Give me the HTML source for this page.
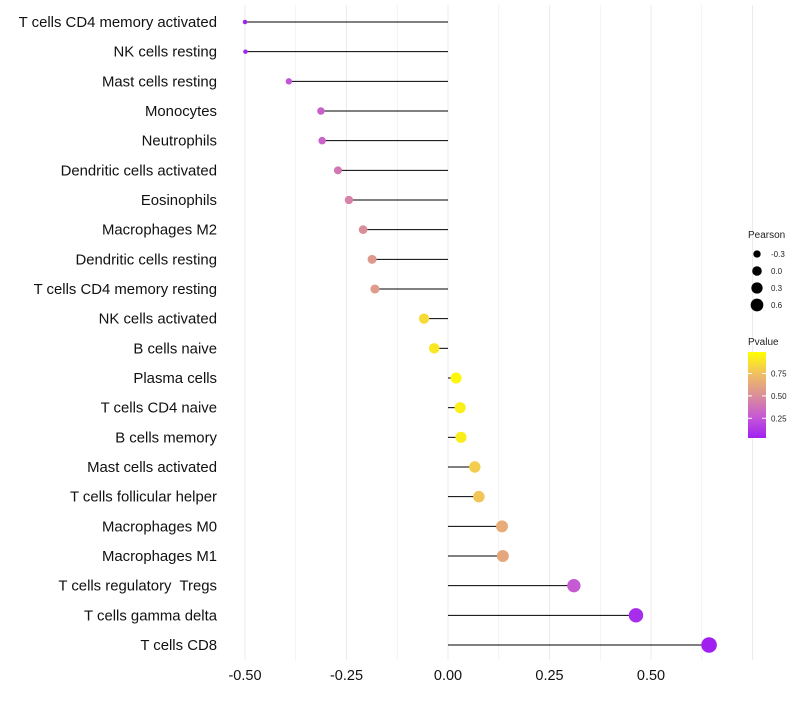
<!DOCTYPE html>
<html><head><meta charset="utf-8"><style>
body{margin:0;background:#fff;font-family:"Liberation Sans",sans-serif}
</style></head><body>
<svg id="chart" width="800" height="700" xmlns="http://www.w3.org/2000/svg" font-family="Liberation Sans, sans-serif"></svg>
<script>
const categories=["T cells CD4 memory activated","NK cells resting","Mast cells resting","Monocytes","Neutrophils","Dendritic cells activated","Eosinophils","Macrophages M2","Dendritic cells resting","T cells CD4 memory resting","NK cells activated","B cells naive","Plasma cells","T cells CD4 naive","B cells memory","Mast cells activated","T cells follicular helper","Macrophages M0","Macrophages M1","T cells regulatory  Tregs","T cells gamma delta","T cells CD8"];
const pearson=[-0.5,-0.499,-0.392,-0.313,-0.31,-0.271,-0.244,-0.209,-0.187,-0.18,-0.059,-0.034,0.02,0.03,0.032,0.066,0.076,0.133,0.135,0.31,0.463,0.643];
const pvalue=[0.04,0.05,0.25,0.3,0.31,0.4,0.45,0.5,0.55,0.57,0.85,0.9,0.96,0.93,0.92,0.8,0.77,0.65,0.63,0.27,0.08,0.03];
const xTicks=[-0.5,-0.25,0,0.25,0.5];
const xTickLabels=["-0.50","-0.25","0.00","0.25","0.50"];
const sizeLegend=[-0.3,0,0.3,0.6];
const pTicks=[0.25,0.5,0.75];

const svg=document.getElementById('chart');
const NS='http://www.w3.org/2000/svg';
function mk(t,a,p){const e=document.createElementNS(NS,t);for(const k in a)e.setAttribute(k,a[k]);(p||svg).appendChild(e);return e;}
const x=v=>448+(v)*406;
const y=i=>22+i*(623/21);
const r=v=>Math.max(1.6,7*Math.sqrt(Math.max(0,v+0.6)));
const stops=[[0.03,[160,32,240]],[0.25,[196,85,216]],[0.5,[218,142,154]],[0.75,[240,192,96]],[0.99,[255,255,0]]];
function col(p){if(p<=stops[0][0])return 'rgb('+stops[0][1]+')';for(let i=1;i<stops.length;i++){if(p<=stops[i][0]){const [a,ca]=stops[i-1],[b,cb]=stops[i];const t=(p-a)/(b-a);return 'rgb('+ca.map((c,j)=>Math.round(c+(cb[j]-c)*t)).join(',')+')';}}return 'rgb(255,255,0)';}

const grid=mk('g',{});
for(let v=-0.5;v<=0.75;v+=0.125){mk('line',{x1:x(v),x2:x(v),y1:5,y2:660,stroke:'#ebebeb','stroke-width':Math.abs(v*4-Math.round(v*4))<1e-6?1:0.6},grid);}
const xa=mk('g',{});
xTicks.forEach((v,i)=>{const t=mk('text',{x:x(v),y:680,'text-anchor':'middle','font-size':14.5,fill:'#111'},xa);t.textContent=xTickLabels[i];});
const marks=mk('g',{});
categories.forEach((c,i)=>{
 const t=mk('text',{x:217,y:y(i)+5,'text-anchor':'end','font-size':14.9,fill:'#111'});t.setAttribute('xml:space','preserve');t.style.whiteSpace='pre';t.textContent=c;
 
 const l=mk('line',{x1:x(0),x2:x(pearson[i]),y1:y(i),y2:y(i),stroke:'#000','stroke-width':1},marks);
 
 const d=mk('circle',{cx:x(pearson[i]),cy:y(i),r:r(pearson[i]),fill:col(pvalue[i])},marks);
 
});
const lg=mk('g',{});
mk('text',{x:748,y:238,'font-size':10,fill:'#222'},lg).textContent='Pearson';
sizeLegend.forEach((v,i)=>{const cy=254+i*17;mk('circle',{cx:757,cy:cy,r:r(v)*0.7+1,fill:'#000'},lg);mk('text',{x:771,y:cy+3,'font-size':8,fill:'#222'},lg).textContent=v.toFixed(1);});
const cg=mk('g',{});
mk('text',{x:748,y:345,'font-size':10,fill:'#222'},cg).textContent='Pvalue';
const defs=mk('defs',{});const gr=mk('linearGradient',{id:'pg',x1:0,y1:1,x2:0,y2:0},defs);
stops.forEach(s=>mk('stop',{offset:(s[0]-0.03)/0.96,'stop-color':'rgb('+s[1]+')'},gr));
mk('rect',{x:748,y:352,width:18,height:86,fill:'url(#pg)'},cg);
const py=p=>438-(p-0.03)/0.96*86;
pTicks.forEach(p=>{mk('line',{x1:748,x2:752,y1:py(p),y2:py(p),stroke:'#fff'},cg);mk('line',{x1:762,x2:766,y1:py(p),y2:py(p),stroke:'#fff'},cg);mk('text',{x:771,y:py(p)+3,'font-size':8,fill:'#222'},cg).textContent=p.toFixed(2);});
</script>
</body></html>
